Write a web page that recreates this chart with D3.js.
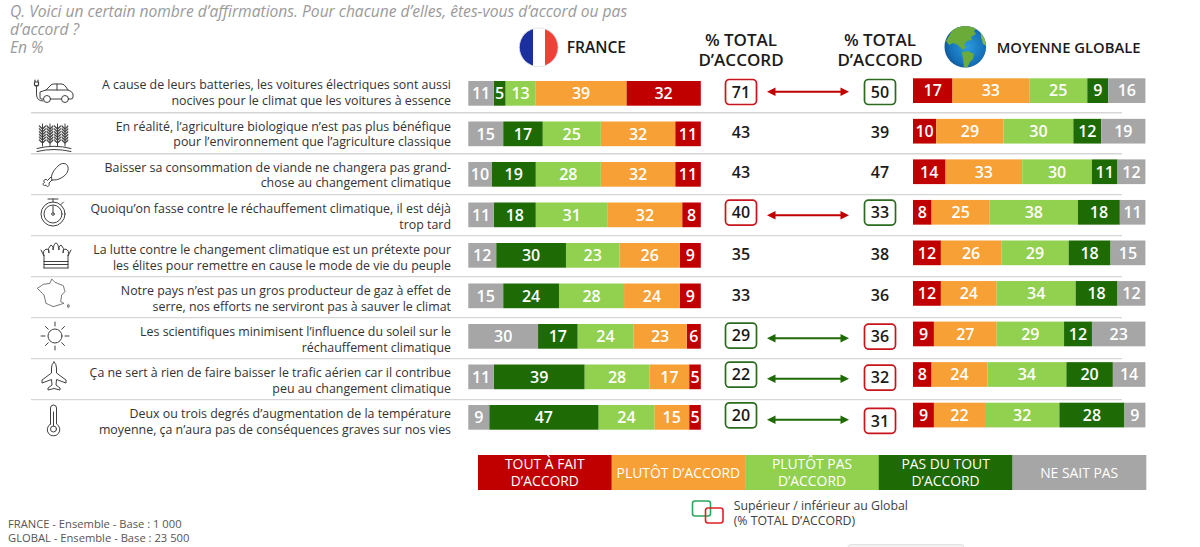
<!DOCTYPE html>
<html lang="fr">
<head>
<meta charset="utf-8">
<script src="https://cdn.jsdelivr.net/npm/d3@7"></script>
<style>
html,body{margin:0;padding:0;background:#fff;overflow:hidden}
svg{display:block}
text{font-family:"Open Sans","Noto Sans",sans-serif}
</style>
</head>
<body>
<svg id="c" width="1200" height="547"></svg>
<script>
// ---- data ----
const statements = [
  ["A cause de leurs batteries, les voitures électriques sont aussi","nocives pour le climat que les voitures à essence"],
  ["En réalité, l’agriculture biologique n’est pas plus bénéfique","pour l’environnement que l’agriculture classique"],
  ["Baisser sa consommation de viande ne changera pas grand-","chose au changement climatique"],
  ["Quoiqu’on fasse contre le réchauffement climatique, il est déjà","trop tard"],
  ["La lutte contre le changement climatique est un prétexte pour","les élites pour remettre en cause le mode de vie du peuple"],
  ["Notre pays n’est pas un gros producteur de gaz à effet de","serre, nos efforts ne serviront pas à sauver le climat"],
  ["Les scientifiques minimisent l’influence du soleil sur le","réchauffement climatique"],
  ["Ça ne sert à rien de faire baisser le trafic aérien car il contribue","peu au changement climatique"],
  ["Deux ou trois degrés d’augmentation de la température","moyenne, ça n’aura pas de conséquences graves sur nos vies"]
];
const answerKeys   = ["tout","plutot","plutotPas","pasDuTout","nsp"];
const answerLabels = [["TOUT À FAIT","D’ACCORD"],["PLUTÔT D’ACCORD"],["PLUTÔT PAS","D’ACCORD"],["PAS DU TOUT","D’ACCORD"],["NE SAIT PAS"]];
const answerColors = ["#c00000","#f6a035","#92d050","#1e6a04","#a6a6a6"];

const frTout      = [32,11,11, 8, 9, 9, 6, 5, 5];
const frPlutot    = [39,32,32,32,26,24,23,17,15];
const frPlutotPas = [13,25,28,31,23,28,24,28,24];
const frPasDuTout = [ 5,17,19,18,30,24,17,39,47];
const frNsp       = [11,15,10,11,12,15,30,11, 9];

const glTout      = [17,10,14, 8,12,12, 9, 8, 9];
const glPlutot    = [33,29,33,25,26,24,27,24,22];
const glPlutotPas = [25,30,30,38,29,34,29,34,32];
const glPasDuTout = [ 9,12,11,18,18,18,12,20,28];
const glNsp       = [16,19,12,11,15,12,23,14, 9];

const frTotal = [71,43,43,40,35,33,29,22,20];
const glTotal = [50,39,47,33,38,36,36,32,31];
// +1: France above global, -1: France below global, 0: no significant gap
const gap     = [ 1, 0, 0, 1, 0, 0,-1,-1,-1];

// ---- layout ----
const RED="#c00000", GREEN="#1e6a04", INK="#1a1a1a";
const svg = d3.select("#c");
const rows = d3.range(statements.length);
const rowsOf = a => rows.map(i => Object.fromEntries(answerKeys.map((k,j)=>[k,a[j][i]])));
const frRows = rowsOf([frTout,frPlutot,frPlutotPas,frPasDuTout,frNsp]);
const glRows = rowsOf([glTout,glPlutot,glPlutotPas,glPasDuTout,glNsp]);
const color = d3.scaleOrdinal(answerKeys, answerColors);

const xFr = d3.scaleLinear([100,0],[468.3,700.8]);   // France reads from the right (red) to the left (grey)
const xGl = d3.scaleLinear([0,100],[913,1145.4]);
const rowY = d3.scaleLinear([0,8],[81,405]);
const rowYGl = d3.scaleLinear([0,8],[78.3,402.7]);
const ruleY = d3.scaleLinear([0,7],[112.7,399.6]);
const textY = d3.scaleLinear([0,8],[85,413.8]);
const barH = 24.7;

// rules
svg.append("g").selectAll("line").data(d3.range(8)).join("line")
  .attr("x1",31).attr("x2",1122).attr("y1",ruleY).attr("y2",ruleY)
  .attr("stroke","#d6d6d6").attr("stroke-width",1.4);

// title
svg.append("g").attr("fill","#9a9a9a").attr("font-style","italic").attr("font-size",15.6)
  .selectAll("text").data(["Q. Voici un certain nombre d’affirmations. Pour chacune d’elles, êtes-vous d’accord ou pas","d’accord ?","En %"]).join("text")
  .attr("x",10).attr("y",(d,i)=>17+i*18).text(d=>d);

// statements
const st = svg.append("g").attr("text-anchor","end").attr("font-size",12.4).attr("fill","#333");
rows.forEach(i=>{
  st.append("g").selectAll("text").data(statements[i]).join("text")
    .attr("x",451).attr("y",(d,j)=>textY(i)+j*15.8).attr("dy",".36em").text(d=>d);
});

// stacked bars
function bars(data,x,y,keys){
  const stack = d3.stack().keys(keys)(data);
  const g = svg.append("g");
  stack.forEach(s=>{
    const sg = g.append("g");
    sg.selectAll("rect").data(s).join("rect")
      .attr("x",d=>Math.min(x(d[0]),x(d[1]))).attr("width",d=>Math.abs(x(d[1])-x(d[0])))
      .attr("y",(d,i)=>y(i)).attr("height",barH).attr("fill",color(s.key));
    sg.selectAll("text").data(s).join("text")
      .attr("x",d=>(x(d[0])+x(d[1]))/2).attr("y",(d,i)=>y(i)+barH/2).attr("dy",".36em")
      .attr("text-anchor","middle").attr("fill","#fff").attr("font-size",16).attr("font-weight",600)
      .text(d=>d[1]-d[0]);
  });
}
bars(frRows,xFr,rowY,answerKeys);
bars(glRows,xGl,rowYGl,answerKeys);

// totals, boxes, arrows
const frBoxNudge = [0,0,0,0,0,0,0,-1.5,-1.5];
const glBoxNudge = [0,0,0,0,0,0,1,1.5,4];
function totals(vals,cx,nudge,sign){
  const cy = i => i<4 ? 92+i*40.2 : 92+i*40.6;
  const g = svg.append("g");
  g.selectAll("rect").data(rows.filter(i=>gap[i]!==0)).join("rect")
    .attr("x",cx-15.5).attr("width",31).attr("height",25).attr("rx",4)
    .attr("y",i=>cy(i)+nudge[i]-12.5)
    .attr("fill","#fff").attr("stroke-width",1.7)
    .attr("stroke",i=>gap[i]*sign>0?"#c8141c":"#2a6b1e");
  g.selectAll("text").data(rows).join("text")
    .attr("x",cx).attr("y",i=>cy(i)+nudge[i]).attr("dy",".36em")
    .attr("text-anchor","middle").attr("fill",INK).attr("font-size",16).attr("font-weight",600)
    .text(i=>vals[i]);
}
totals(frTotal,741,frBoxNudge,1);
totals(glTotal,880,glBoxNudge,-1);

const arrowRows = rows.filter(i=>gap[i]!==0);
const arrowY = d3.scaleLinear([0,8],[91.7,419.7]);
const ag = svg.append("g");
arrowRows.forEach(i=>{
  const c = gap[i]>0?RED:GREEN, y = arrowY(i)+(i===3?0.6:0)+(i===6?0.6:0);
  ag.append("line").attr("x1",770).attr("x2",846).attr("y1",y).attr("y2",y).attr("stroke",c).attr("stroke-width",2);
  ag.append("path").attr("d",`M767 ${y}l8.500 -4.200v8.400z`).attr("fill",c);
  ag.append("path").attr("d",`M849 ${y}l-8.500 -4.200v8.400z`).attr("fill",c);
});

// headers
const hd = svg.append("g").attr("fill",INK).attr("font-weight",600);
hd.append("text").attr("x",566.7).attr("y",47.5).attr("dy",".36em").attr("font-size",15.6).text("FRANCE");
hd.append("text").attr("x",996.7).attr("y",47.5).attr("dy",".36em").attr("font-size",14.8).text("MOYENNE GLOBALE");
[741,880].forEach(cx=>{
  hd.append("g").selectAll("text").data(["% TOTAL","D’ACCORD"]).join("text")
    .attr("x",cx).attr("y",(d,i)=>40+i*20).attr("dy",".36em").attr("text-anchor","middle").attr("font-size",17).text(d=>d);
});

// flag
const defs = svg.append("defs");
defs.append("clipPath").attr("id","flagClip").append("circle").attr("cx",538.7).attr("cy",47.3).attr("r",19.4);
const fl = svg.append("g").attr("clip-path","url(#flagClip)");
fl.append("rect").attr("x",519).attr("y",27).attr("width",14).attr("height",41).attr("fill","#1b2f9e");
fl.append("rect").attr("x",533).attr("y",27).attr("width",12).attr("height",41).attr("fill","#fff");
fl.append("rect").attr("x",545).attr("y",27).attr("width",14).attr("height",41).attr("fill","#ef4136");
svg.append("circle").attr("cx",538.7).attr("cy",47.3).attr("r",19.4).attr("fill","none").attr("stroke","#ddd").attr("stroke-width",.8);

// globe
const gr = defs.append("radialGradient").attr("id","sea").attr("cx",.55).attr("cy",.5).attr("r",.6);
gr.append("stop").attr("offset",0).attr("stop-color","#2b9be0");
gr.append("stop").attr("offset",.7).attr("stop-color","#1570b8");
gr.append("stop").attr("offset",1).attr("stop-color","#0d4f8c");
defs.append("clipPath").attr("id","globeClip").append("circle").attr("cx",965.3).attr("cy",46.7).attr("r",20.8);
svg.append("circle").attr("cx",965.3).attr("cy",46.7).attr("r",20.8).attr("fill","url(#sea)");
const gl = svg.append("g").attr("clip-path","url(#globeClip)").attr("fill","#6aab3a");
gl.append("path").attr("d","M949 36 L953 29 L962 25 L972 25 L977 28 L974 31 L976 34 L971 37 L972 40 L967 41 L964 45 L966 47 L963 50 L958 45 L953 43 L949 45 L946 41Z");
gl.append("path").attr("d","M962 52 L968 51 L974 54 L973 59 L970 62 L967 68 L964 67 L963 60Z");
gl.append("path").attr("d","M980 27 L985 33 L987 46 L983 44 L981 37Z").attr("fill","#7fbb48");

// icons (decorative line drawings)
const ic = svg.append("g").attr("fill","none").attr("stroke","#3f3f3f").attr("stroke-width",1).attr("stroke-linecap","round").attr("stroke-linejoin","round");
// car
ic.append("path").attr("d","M43 99 H41 Q40 99 40 97 L40 92 L46 90 L51 85 Q52 84 54 84 H62 Q64 84 66 87 L68 90 Q72 91 73 94 V97 Q73 99 71 99 H69 M61 99 H51 M46 90 H68 M57 84 V90 M36.5 86 V94 Q36.5 101 43 101");
ic.append("circle").attr("cx",47).attr("cy",99).attr("r",3.5);
ic.append("circle").attr("cx",65).attr("cy",99).attr("r",3.5);
ic.append("path").attr("d","M35 80 V82 M38 80 V82 M34.5 82 H38.5 V85 Q36.5 87 34.5 85Z").attr("stroke-width",1.2);
// wheat
[42.5,50,57.5,65].forEach(x=>{
  ic.append("path").attr("d",`M${x} 124 V146`);
  d3.range(6).forEach(k=>{
    const y=127+k*2.8;
    ic.append("path").attr("d",`M${x-3} ${y-1.4} L${x} ${y+1.4} L${x+3} ${y-1.4} V${y-.2} L${x} ${y+2.4} L${x-3} ${y-.2}Z`).attr("fill","#333").attr("stroke-width",.6);
  });
});
ic.append("path").attr("d","M37 148.5 Q54 144 71 148.5 M37 151.5 Q54 147.5 71 151.5");
// drumstick
ic.append("path").attr("d","M52 180 C50 175 54 170 58 166 C62 162 67 163 68 167 C69 172 65 176 61 178 C58 180 55 180 52 180 M52 180 L49 183 C50 186 47 188 46 185 C43 187 42 183 44.500 182.500 C42.500 180 46 178 47.500 180.500 L51 177");
// stopwatch
ic.append("circle").attr("cx",53).attr("cy",214).attr("r",12);
ic.append("circle").attr("cx",53).attr("cy",214).attr("r",9);
ic.append("circle").attr("cx",53).attr("cy",214).attr("r",1.3);
ic.append("path").attr("d","M53 212.700 V206 M53 202 V199 M48 199 H58 M61 204.500 L63.500 202");
// crown
ic.append("path").attr("d","M44 268 V256 M68 268 V256 M44 268 H68 M44 264.500 H68 M44 261.500 H68 M41 250 L44 256 Q42 250 47 249 Q49 249 49 253 Q47 248 51 245 Q54 246 53 250 Q54 243 56 243 Q58 243 59 250 Q58 246 61 245 Q65 248 63 253 Q63 249 65 249 Q70 250 68 256 L71 250");
// France
const frOutline = [[95,252],[105,262],[130,272],[135,290],[125,300],[122,320],[132,325],[100,335],[78,325],[72,300],[52,280],[70,268],[90,265]].map(([a,b])=>[20+a/3,195+b/3]);
ic.append("path").attr("d",d3.line().curve(d3.curveLinearClosed)(frOutline)).attr("stroke","#777").attr("stroke-dasharray","2 .6");
ic.append("ellipse").attr("cx",68.3).attr("cy",306).attr("rx",.8).attr("ry",1.8).attr("stroke","#777");
// sun
ic.append("circle").attr("cx",55).attr("cy",336).attr("r",7);
d3.range(8).forEach(k=>{
  const a=k*Math.PI/4, r0=k%2?9.5:10, r1=k%2?13.5:14;
  ic.append("path").attr("d",`M${55+r0*Math.cos(a)} ${336+r0*Math.sin(a)} L${55+r1*Math.cos(a)} ${336+r1*Math.sin(a)}`);
});
// plane
ic.append("path").attr("d","M54 362 Q56.500 364 56.500 368 V373 L66 380 V383 L56.500 379.500 L56 385 L60 388 V390 L54 388.500 L48 390 V388 L52 385 L51.500 379.500 L42 383 V380 L51.500 373 V368 Q51.500 364 54 362Z");
// thermometer
ic.append("path").attr("d","M50.500 424 V408 Q50.500 405 53.500 405 Q56.500 405 56.500 408 V424 A6.300 6.300 0 1 1 50.500 424Z");
ic.append("circle").attr("cx",53.500).attr("cy",429).attr("r",3);
ic.append("path").attr("d","M53.500 426 V412");

// legend
const lx = d3.scaleBand(answerKeys,[478,1146]);
const lg = svg.append("g").selectAll("g").data(answerKeys).join("g");
lg.append("rect").attr("x",d=>lx(d)).attr("y",455).attr("width",lx.bandwidth()+.3).attr("height",35).attr("fill",d=>color(d));
lg.each(function(d,i){
  const L = answerLabels[i];
  d3.select(this).selectAll("text").data(L).join("text")
    .attr("x",lx(d)+lx.bandwidth()/2).attr("y",(t,j)=>472.5+(j-(L.length-1)/2)*17).attr("dy",".36em")
    .attr("text-anchor","middle").attr("fill","#fff").attr("font-size",13.9).text(t=>t);
});

// legend note
svg.append("rect").attr("x",692.5).attr("y",501).attr("width",18).attr("height",15).attr("rx",2.5).attr("fill","none").attr("stroke","#2aa860").attr("stroke-width",1.6);
svg.append("rect").attr("x",705.500).attr("y",508).attr("width",17.500).attr("height",15).attr("rx",2.5).attr("fill","none").attr("stroke","#e01f26").attr("stroke-width",1.6);
svg.append("g").attr("fill","#404040").attr("font-size",12.3).selectAll("text")
  .data(["Supérieur / inférieur au Global","(% TOTAL D’ACCORD)"]).join("text")
  .attr("x",733.7).attr("y",(d,i)=>505.5+i*15).attr("dy",".36em").text(d=>d);

// base note
svg.append("g").attr("fill","#555").attr("font-size",11.2).selectAll("text")
  .data(["FRANCE - Ensemble - Base : 1 000","GLOBAL - Ensemble - Base : 23 500"]).join("text")
  .attr("x",8).attr("y",(d,i)=>523.5+i*14).attr("dy",".36em").text(d=>d);

// cropped tab at the bottom edge
svg.append("rect").attr("x",848).attr("y",544.5).attr("width",116).attr("height",8).attr("rx",3).attr("fill","#f2f2f2").attr("stroke","#e2e2e2");
</script>
</body>
</html>
